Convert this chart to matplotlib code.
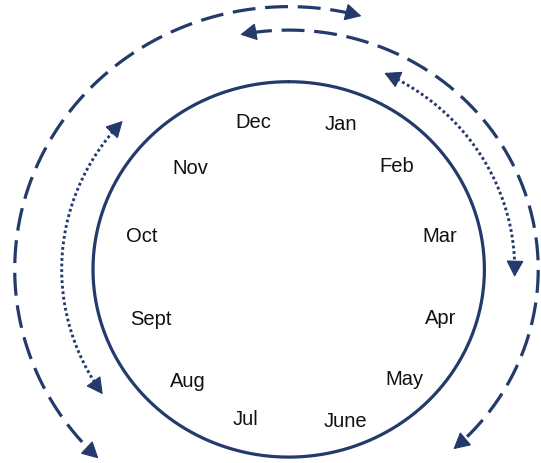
import numpy as np
import matplotlib
matplotlib.use("Agg")
import matplotlib.pyplot as plt
from matplotlib.patches import FancyArrowPatch
from matplotlib.transforms import ScaledTranslation

plt.rcParams['font.family'] = ['Liberation Sans', 'DejaVu Sans']
plt.rcParams['lines.scale_dashes'] = False

# ---- data ----
months = ["Jan", "Feb", "Mar", "Apr", "May", "June",
          "Jul", "Aug", "Sept", "Oct", "Nov", "Dec"]

# ---- layout (angles clockwise from top, degrees; radii relative to circle) ----
label_angles = [18.8, 44.5, 76.3, 107.7, 134.0, 160.1,
                195.8, 221.4, 250.2, 284.1, 317.5, 347.1]
label_radii = [0.829, 0.788, 0.796, 0.817, 0.825, 0.847,
               0.817, 0.778, 0.748, 0.773, 0.747, 0.817]

arc_radius = [1.40, 1.275, 1.155, 1.16]
arc_start = [15.4, -11.2, 25.0, -47.0]
arc_end = [-136.0, 138.7, 92.0, -125.0]
arc_style = ["dashed", "dashed", "dotted", "dotted"]

color = "#243a6b"
W, H = 541, 464
cx, cy, sx, sy = 288.7, 270.4, 195.7, 187.7

fig = plt.figure(figsize=(W / 100, H / 100), dpi=100)
ax = fig.add_axes([0, 0, 1, 1])
ax.set_xlim(-cx / sx, (W - cx) / sx)
ax.set_ylim((cy - H) / sy, cy / sy)
ax.axis("off")

def pt(r, a):
    t = np.deg2rad(a)
    return r * np.sin(t), r * np.cos(t)

# main circle
th = np.linspace(0, 360, 721)
x, y = pt(1.0, th)
ax.plot(x, y, color=color, lw=2.3, solid_capstyle="round")

# month labels
off = ScaledTranslation(0, -7.2 / 100, fig.dpi_scale_trans)
for m, a, r in zip(months, label_angles, label_radii):
    lx, ly = pt(r, a)
    ax.text(lx, ly, m, fontsize=14.5, ha="center", va="baseline",
            color="#111111", transform=ax.transData + off)

# arcs with arrowheads at both ends
for r, a0, a1, st in zip(arc_radius, arc_start, arc_end, arc_style):
    sgn = np.sign(a1 - a0)
    trim = np.rad2deg(9.0 / (r * sx))  # ~9 px trimmed under heads
    th = np.linspace(a0 + sgn * trim, a1 - sgn * trim, 400)
    x, y = pt(r, th)
    if st == "dashed":
        ax.plot(x, y, color=color, lw=2.3, dashes=(16.5, 7.0),
                dash_capstyle="butt")
    else:
        ax.plot(x, y, color=color, lw=2.1, dashes=(2.0, 2.0),
                dash_capstyle="butt")
    step = np.rad2deg(4.0 / (r * sx))
    for tip, back in ((a0, a0 + sgn * step), (a1, a1 - sgn * step)):
        p = FancyArrowPatch(pt(r, back), pt(r, tip),
                            arrowstyle="-|>,head_length=10.5,head_width=5.6",
                            mutation_scale=1, color=color, lw=0.8,
                            shrinkA=0, shrinkB=0, joinstyle="miter")
        ax.add_patch(p)

fig.savefig("out.png", dpi=100)
